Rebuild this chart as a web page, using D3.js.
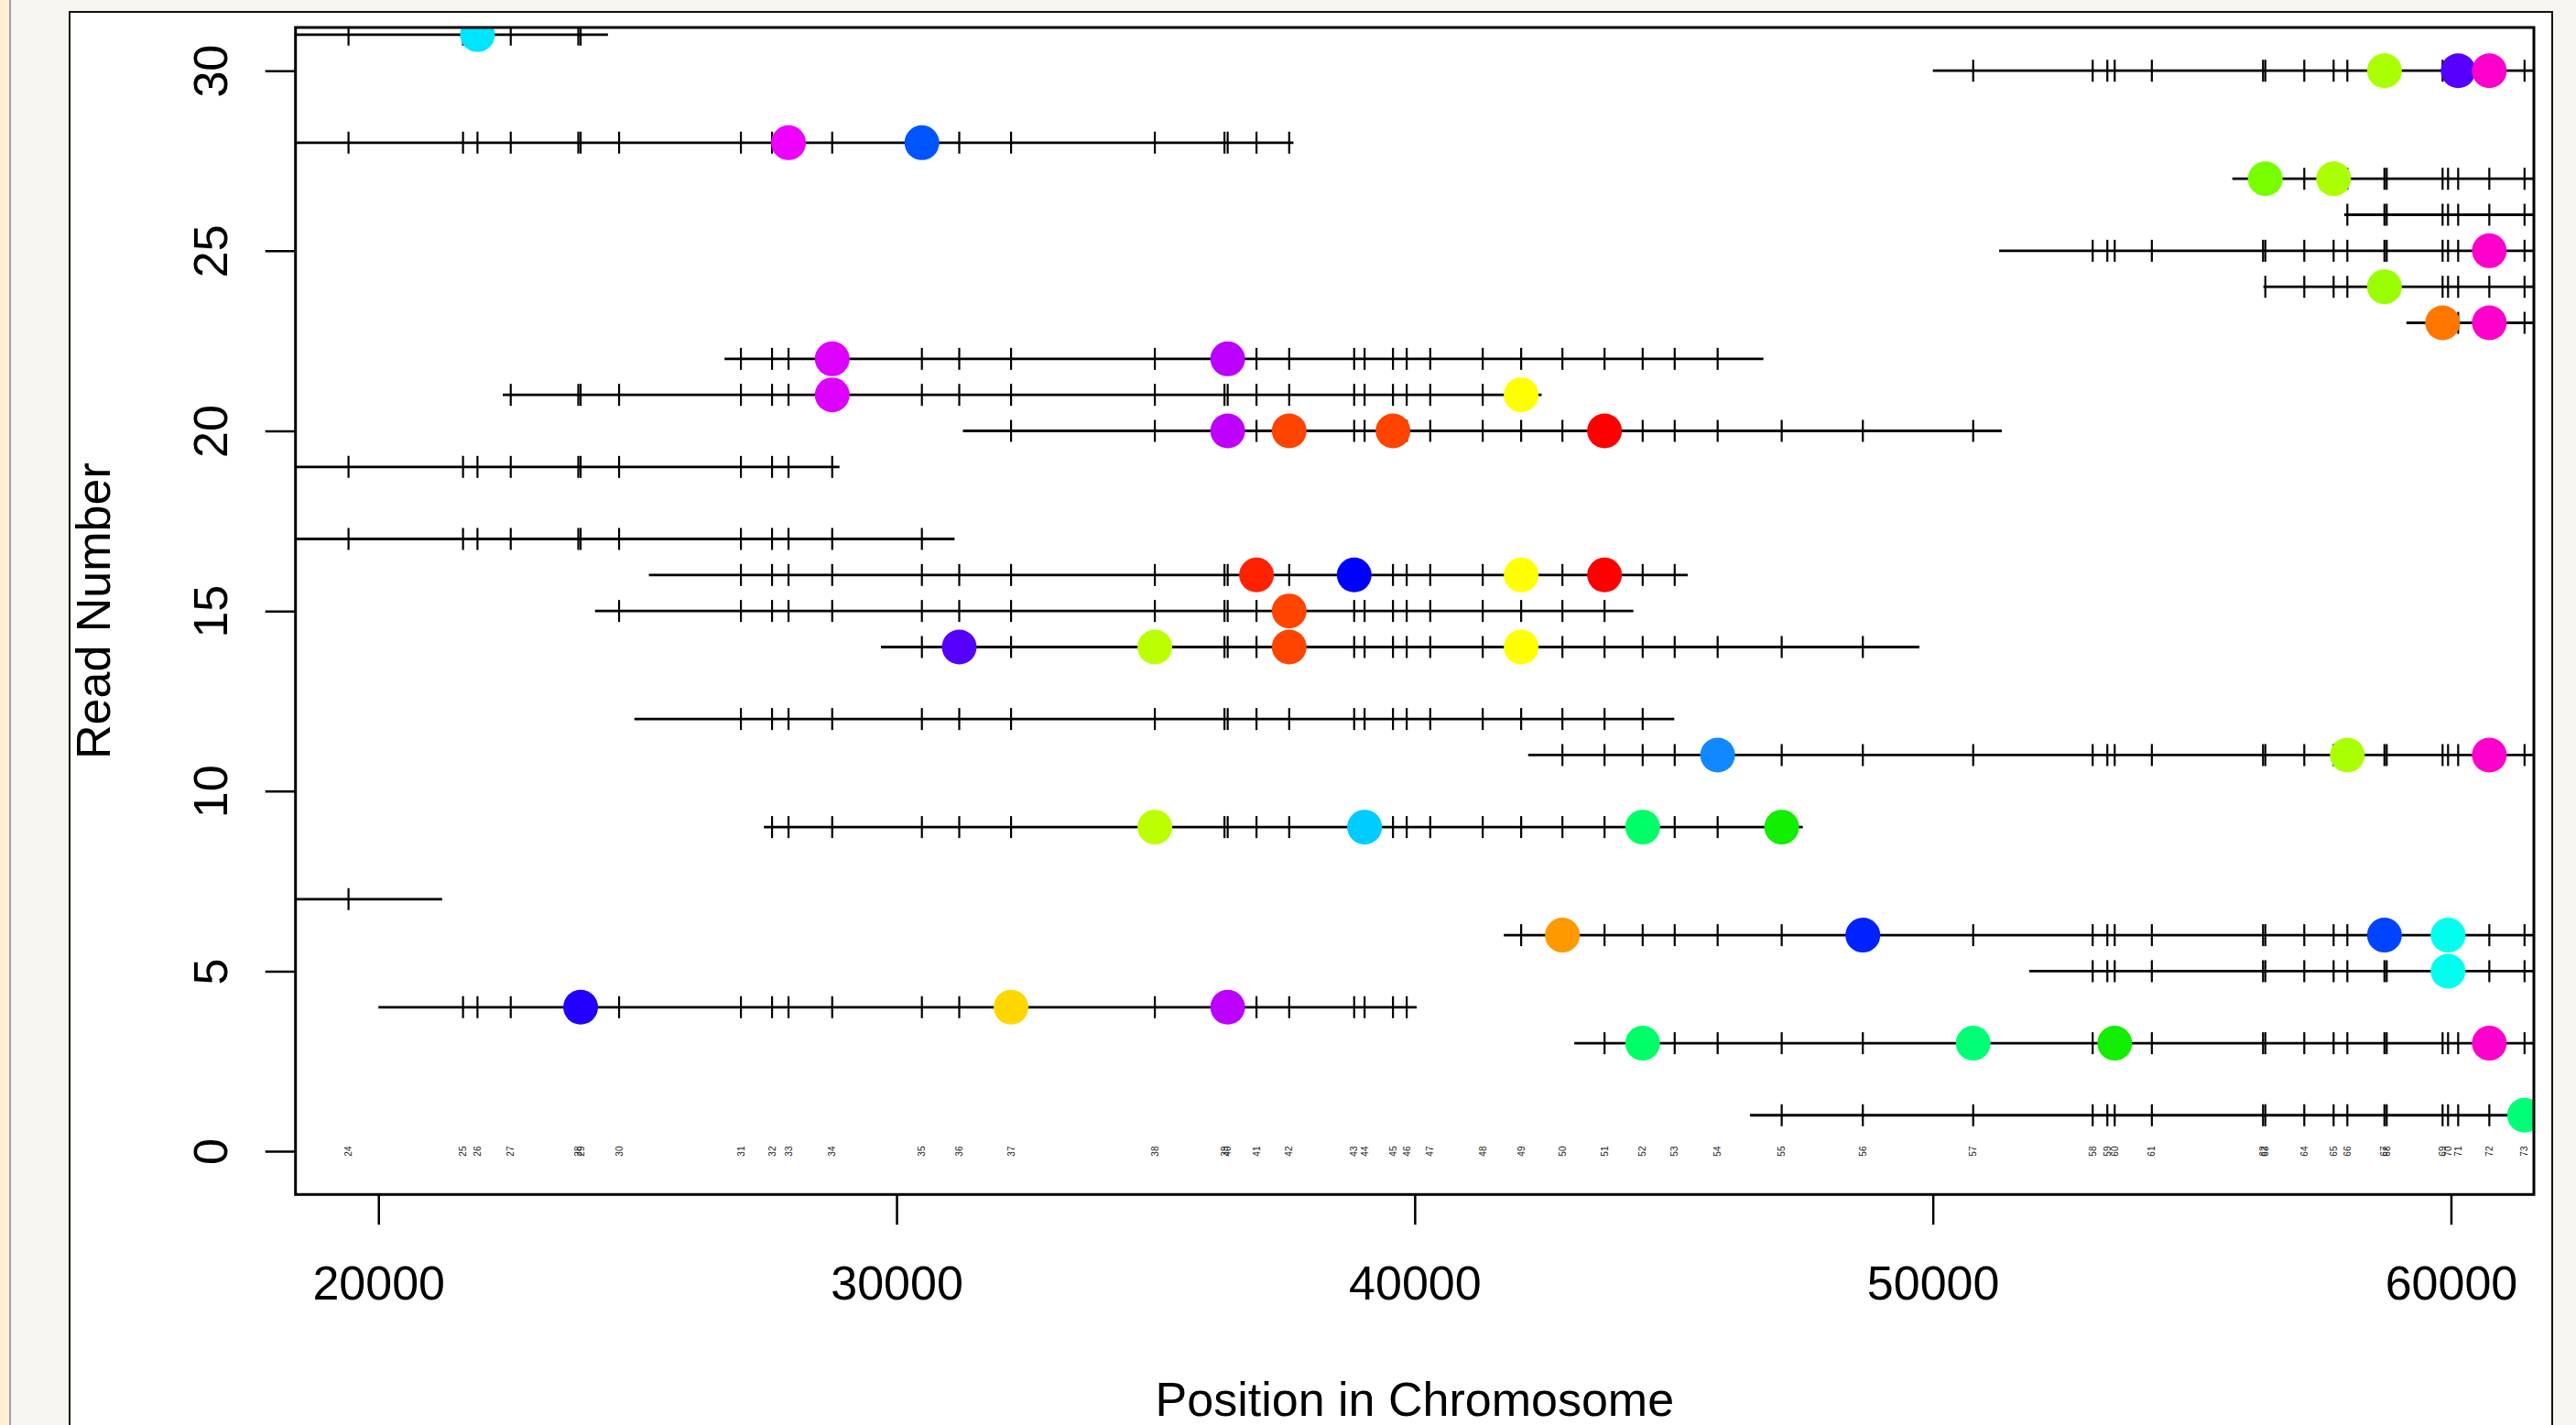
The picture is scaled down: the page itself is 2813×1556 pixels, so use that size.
<!DOCTYPE html>
<html>
<head>
<meta charset="utf-8">
<script src="https://cdn.jsdelivr.net/npm/d3@7"></script>
<style>
  body { margin: 0; background: #f6f5f0; overflow: hidden; }
  svg { display: block; font-family: "Liberation Sans", Arial, Helvetica, sans-serif; }
</style>
</head>
<body>
<div id="chart"></div>
<script>
// marker numbers and their positions on the chromosome
var markerLabels = ["24","25","26","27","28","29","30","31","32","33","34","35","36","37","38","39","40",
    "41","42","43","44","45","46","47","48","49","50","51","52","53","54","55","56","57","58","59","60",
    "61","62","63","64","65","66","67","68","69","70","71","72","73"];
var markerPos = [19423,21633,21912,22554,23858,23903,24645,26996,27597,27915,28758,30489,31210,32210,34985,36329,36391,
    36947,37578,38832,39033,39581,39846,40300,41313,42055,42851,43664,44400,45018,45847,47083,48649,50779,53085,53368,53510,
    54227,56373,56417,57169,57735,58000,58716,58760,59838,59944,60139,60740,61420];

// reads: number, start, end
var readNum   = [1, 3, 4, 5, 6, 7, 9, 11, 12, 14, 15, 16, 17, 19, 20, 21, 22, 23, 24, 25, 26, 27, 28, 30, 31];
var readStart = [46470,43080,20000,51860,41720,1230,27440,42190,24940,29700,24180,25220,11120,8900,31280,22400,26680,59140,56380,51280,57940,55780,17660,50000,4430];
var readEnd   = [66470,63080,40040,71860,61720,21230,47490,62190,45010,49740,44220,45270,31120,28900,51330,42450,46730,79140,76380,71280,77940,75780,37660,70000,24430];

// coloured calls: read, marker, colour
var dotRead   = [1, 3,3,3,3, 4,4,4, 5, 6,6,6,6, 9,9,9,9, 11,11,11, 14,14,14,14, 15, 16,16,16,16,
                 20,20,20,20, 21,21, 22,22, 23,23, 24, 25, 27,27, 28,28, 30,30,30, 31];
var dotMarker = ["73", "52","57","60","72", "29","37","40", "70", "50","56","67","70", "38","44","52","55",
                 "54","66","72", "36","38","42","49", "42", "41","43","49","51",
                 "40","42","45","51", "34","49", "34","40", "69","72", "67", "72", "63","65", "33","35",
                 "67","71","72", "26"];
var dotColor  = ["#00ff77", "#00ff66","#00ff77","#11ee00","#ff00cc", "#2200ff","#ffd700","#bb00ff", "#00ffee",
                 "#ff9900","#0022ff","#0044ff","#00ffee", "#bbff00","#00ccff","#00ff66","#11ee00",
                 "#1188ff","#aaff00","#ff00cc", "#5500ff","#bbff00","#ff4400","#ffff00", "#ff4400",
                 "#ff2200","#0000ff","#ffff00","#ff0000", "#c000ff","#ff4400","#ff4400","#ff0000",
                 "#dd00ff","#ffff00", "#dd00ff","#bb00ff", "#ff7700","#ff00cc", "#99ff00", "#ff00cc",
                 "#77ff00","#aaff00", "#ee00ff","#0055ff", "#aaff00","#5500ff","#ff00cc", "#00e5ff"];

var xTicks = [20000, 30000, 40000, 50000, 60000];
var yTicks = [0, 5, 10, 15, 20, 25, 30];

var W = 2813, H = 1556;
var box = {left: 322.7, right: 2767, top: 30, bottom: 1304.3};

var svg = d3.select("#chart").append("svg")
    .attr("width", W)
    .attr("height", H);

// page furniture
svg.append("rect").attr("x", 0).attr("y", 0).attr("width", 10).attr("height", H).attr("fill", "#fdf0d3");
svg.append("line").attr("x1", 11).attr("x2", 11).attr("y1", 0).attr("y2", H)
    .attr("stroke", "#9aa4ae").attr("stroke-width", 2);
svg.append("rect").attr("x", 76).attr("y", 13).attr("width", 2711).attr("height", 1600)
    .attr("fill", "#fff").attr("stroke", "#111").attr("stroke-width", 2);

var x = d3.scaleLinear().domain([18400, 61600]).range([box.left, box.right]);
var y = d3.scaleLinear().domain([-1.2, 31.2]).range([box.bottom, box.top]);

svg.append("clipPath").attr("id", "plotclip")
    .append("rect")
    .attr("x", box.left).attr("y", box.top)
    .attr("width", box.right - box.left).attr("height", box.bottom - box.top);

var g = svg.append("g").attr("clip-path", "url(#plotclip)");

var reads = readNum.map(function (r, i) {
    return {read: r, start: readStart[i], end: readEnd[i]};
});
var markerByLabel = {};
markerLabels.forEach(function (m, i) { markerByLabel[m] = markerPos[i]; });

// read lines
g.selectAll(".read")
    .data(reads)
    .enter()
    .append("line")
    .attr("class", "read")
    .attr("x1", function (d) { return x(d.start); })
    .attr("x2", function (d) { return x(d.end); })
    .attr("y1", function (d) { return y(d.read); })
    .attr("y2", function (d) { return y(d.read); })
    .attr("stroke", "#000")
    .attr("stroke-width", 2.8);

// marker ticks on every read that covers them
var ticks = [];
reads.forEach(function (r) {
    markerPos.forEach(function (p) {
        if (p >= r.start && p <= r.end) ticks.push({read: r.read, pos: p});
    });
});
g.selectAll(".mtick")
    .data(ticks)
    .enter()
    .append("line")
    .attr("class", "mtick")
    .attr("x1", function (d) { return x(d.pos); })
    .attr("x2", function (d) { return x(d.pos); })
    .attr("y1", function (d) { return y(d.read) - 12; })
    .attr("y2", function (d) { return y(d.read) + 12; })
    .attr("stroke", "#000")
    .attr("stroke-width", 2.2);

// coloured dots
var dots = dotRead.map(function (r, i) {
    return {read: r, pos: markerByLabel[dotMarker[i]], color: dotColor[i]};
});
g.selectAll(".dot")
    .data(dots)
    .enter()
    .append("circle")
    .attr("class", "dot")
    .attr("cx", function (d) { return x(d.pos); })
    .attr("cy", function (d) { return y(d.read); })
    .attr("r", 19)
    .attr("fill", function (d) { return d.color; });

// marker labels along read 0
g.selectAll(".mlabel")
    .data(markerLabels)
    .enter()
    .append("text")
    .attr("class", "mlabel")
    .attr("transform", function (d, i) { return "translate(" + x(markerPos[i]) + "," + y(0) + ") rotate(-90)"; })
    .attr("text-anchor", "middle")
    .attr("dominant-baseline", "central")
    .attr("font-size", 10)
    .attr("fill", "#222")
    .text(function (d) { return d; });

// axes
var xAxis = svg.append("g")
    .attr("transform", "translate(0," + box.bottom + ")")
    .call(d3.axisBottom(x).tickValues(xTicks).tickSize(33).tickFormat(d3.format("d")));
xAxis.select(".domain").remove();
xAxis.selectAll(".tick line").attr("stroke", "#000").attr("stroke-width", 2.5);
xAxis.selectAll(".tick text")
    .attr("y", 115).attr("dy", null)
    .attr("font-size", 52).attr("fill", "#000")
    .attr("font-family", "'Liberation Sans', Arial, Helvetica, sans-serif");

var yAxis = svg.append("g")
    .attr("transform", "translate(" + box.left + ",0)")
    .call(d3.axisLeft(y).tickValues(yTicks).tickSize(33));
yAxis.select(".domain").remove();
yAxis.selectAll(".tick line").attr("stroke", "#000").attr("stroke-width", 2.5);
yAxis.selectAll(".tick text")
    .attr("x", null).attr("dy", null)
    .attr("transform", "translate(-75,0) rotate(-90)")
    .attr("text-anchor", "middle")
    .attr("font-size", 52).attr("fill", "#000")
    .attr("font-family", "'Liberation Sans', Arial, Helvetica, sans-serif");

// plot box
svg.append("rect")
    .attr("x", box.left).attr("y", box.top)
    .attr("width", box.right - box.left).attr("height", box.bottom - box.top)
    .attr("fill", "none").attr("stroke", "#000").attr("stroke-width", 3);

// titles
svg.append("text")
    .attr("x", (box.left + box.right) / 2).attr("y", 1546)
    .attr("text-anchor", "middle").attr("font-size", 52)
    .text("Position in Chromosome");
svg.append("text")
    .attr("transform", "translate(120," + (box.top + box.bottom) / 2 + ") rotate(-90)")
    .attr("text-anchor", "middle").attr("font-size", 52)
    .text("Read Number");
</script>
</body>
</html>
